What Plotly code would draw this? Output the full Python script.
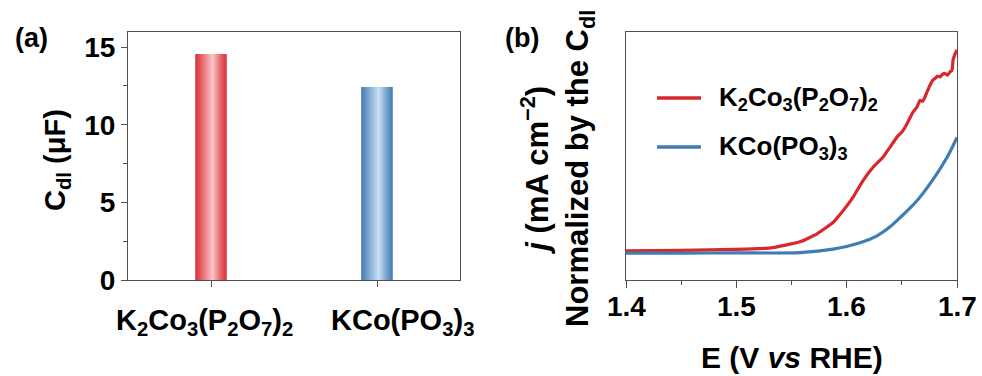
import plotly.graph_objects as go

# ---- Panel (a): double-layer capacitance ----
categories = [
    "K<sub>2</sub>Co<sub>3</sub>(P<sub>2</sub>O<sub>7</sub>)<sub>2</sub>",
    "KCo(PO<sub>3</sub>)<sub>3</sub>",
]
cdl_values = [14.55, 12.43]
cdl_ticks = [0, 5, 10, 15]

# ---- Panel (b): LSV current normalised by Cdl ----
e_red = [1.400, 1.450, 1.500, 1.531, 1.5577, 1.5731, 1.5876, 1.5967, 1.6057,
         1.6148, 1.6239, 1.6329, 1.6393, 1.6456, 1.6505, 1.6547, 1.6601,
         1.6635, 1.6665, 1.669, 1.671, 1.6735, 1.6755, 1.678, 1.680, 1.6825,
         1.6846, 1.687, 1.6891, 1.6915, 1.6937, 1.6955, 1.6964, 1.6978,
         1.6991, 1.700]
j_red = [0.000, 0.005, 0.015, 0.030, 0.090, 0.170, 0.283, 0.400, 0.533,
         0.700, 0.833, 0.933, 1.033, 1.133, 1.190, 1.267, 1.383,
         1.430, 1.500, 1.490, 1.533, 1.600, 1.650, 1.700, 1.717, 1.740,
         1.733, 1.760, 1.767, 1.750, 1.783, 1.800, 1.900, 1.950,
         1.983, 2.000]

e_blue = [1.400, 1.450, 1.500, 1.5577, 1.5876, 1.6121, 1.6275, 1.6393,
          1.6483, 1.6637, 1.6782, 1.6909, 1.700]
j_blue = [-0.023, -0.022, -0.020, -0.017, 0.017, 0.080, 0.150, 0.240,
          0.330, 0.500, 0.710, 0.930, 1.130]

e_ticks = [1.4, 1.5, 1.6, 1.7]
e_tick_labels = ["1.4", "1.5", "1.6", "1.7"]

RED = "#d9272e"
BLUE = "#3f7db3"
bar_scales = [
    [[0, "#d8323a"], [0.18, "#e65c63"], [0.55, "#fbc6c9"], [0.85, "#e4545b"], [1, "#d8323a"]],
    [[0, "#4377b0"], [0.18, "#6d9dcb"], [0.55, "#c9e0f3"], [0.85, "#6898c6"], [1, "#4377b0"]],
]
BAR_WIDTH = 0.19

FONT = "Liberation Sans, Arial, sans-serif"
W, H = 982, 376


def px(xp, yp):
    """Paper coordinates from pixel position in the figure."""
    return xp / W, 1 - yp / H


fig = go.Figure()

# Cylinder-like bars: filled rectangles with a horizontal colour gradient
for i, (val, cs) in enumerate(zip(cdl_values, bar_scales)):
    x0, x1 = i - BAR_WIDTH / 2, i + BAR_WIDTH / 2
    fig.add_trace(go.Scatter(
        x=[x0, x1, x1, x0, x0], y=[0, 0, val, val, 0],
        mode="lines", fill="toself", line=dict(width=0),
        fillgradient=dict(type="horizontal", colorscale=cs),
        showlegend=False, xaxis="x", yaxis="y",
        hovertemplate="%{y}<extra></extra>",
    ))

fig.add_trace(go.Scatter(
    x=e_red, y=j_red, mode="lines", name=categories[0],
    line=dict(color=RED, width=3.2, shape="spline", smoothing=0.4),
    xaxis="x2", yaxis="y2", showlegend=False,
))
fig.add_trace(go.Scatter(
    x=e_blue, y=j_blue, mode="lines", name=categories[1],
    line=dict(color=BLUE, width=3.2, shape="spline", smoothing=0.8),
    xaxis="x2", yaxis="y2", showlegend=False,
))

tick_font = dict(family=FONT, size=28, color="black", weight="bold")
cat_font = dict(family=FONT, size=29, color="black", weight="bold")
frame = dict(showline=True, mirror=True, linecolor="#505050", linewidth=1,
             showgrid=False, zeroline=False, automargin=False)

fig.update_layout(
    width=W, height=H,
    margin=dict(l=0, r=0, t=0, b=0, autoexpand=False),
    paper_bgcolor="white", plot_bgcolor="white",
    font=dict(family=FONT, color="black"),
    xaxis=dict(domain=[128 / W, 460 / W], range=[-0.5, 1.5],
               tickvals=[0, 1], showticklabels=False, ticks="outside",
               ticklen=6, tickcolor="#505050", **frame),
    yaxis=dict(domain=[96 / H, 344 / H], range=[0, 15.97],
               tickvals=cdl_ticks, ticks="outside", ticklen=6,
               tickcolor="#505050", tickfont=tick_font,
               minor=dict(tickvals=[2.5, 7.5, 12.5], ticks="outside",
                          ticklen=4, tickcolor="#505050"),
               anchor="x", **frame),
    xaxis2=dict(domain=[626 / W, 957 / W], range=[1.4, 1.7],
                tickvals=e_ticks, showticklabels=False,
                ticks="outside", ticklen=7, tickcolor="#505050",
                minor=dict(tickvals=[1.45, 1.55, 1.65], ticks="outside",
                           ticklen=4, tickcolor="#505050"),
                anchor="y2", **frame),
    yaxis2=dict(domain=[96 / H, 344 / H], range=[-0.29, 2.18],
                showticklabels=False, ticks="", anchor="x2", **frame),
    showlegend=False,
)

label_font = dict(family=FONT, size=27, color="black", weight="bold")
title_font = dict(family=FONT, size=29, color="black", weight="bold")
legend_font = dict(family=FONT, size=26, color="black", weight="bold")


def note(text, xp, yp, font, **kw):
    x, y = px(xp, yp)
    fig.add_annotation(text=text, x=x, y=y, xref="paper", yref="paper",
                       showarrow=False, font=font, **kw)


# Category names under the bars, placed on the category positions
for i, (name, shift) in enumerate(zip(categories, [-7, 25])):
    fig.add_annotation(text=name, x=i, xref="x", y=1 - 322 / H, yref="paper",
                       xshift=shift, showarrow=False, font=cat_font,
                       xanchor="center", yanchor="middle")

# Potential tick labels for panel (b)
for val, lab in zip(e_ticks, e_tick_labels):
    fig.add_annotation(text=lab, x=val, xref="x2", y=1 - 306 / H, yref="paper",
                       showarrow=False, font=tick_font,
                       xanchor="center", yanchor="middle")

note("(a)", 32, 38, label_font, xanchor="center", yanchor="middle")
note("(b)", 522, 38, label_font, xanchor="center", yanchor="middle")
note("C<sub>dl</sub> (μF)", 57, 160, title_font, textangle=-90,
     xanchor="center", yanchor="middle")
note("<i>j</i> (mA cm<sup>−2</sup>)<br>Normalized by the C<sub>dl</sub>", 557, 169,
     dict(family=FONT, size=31, color="black", weight="bold"), textangle=-90,
     xanchor="center", yanchor="middle", align="center")
note("E (V <i>vs</i> RHE)", 792, 357,
     dict(family=FONT, size=30, color="black", weight="bold"),
     xanchor="center", yanchor="middle")

# Legend for panel (b): coloured sample lines with labels
for name, color, yp in [(categories[0], RED, 98), (categories[1], BLUE, 147)]:
    x0, y0 = px(657, yp)
    x1, _ = px(701, yp)
    fig.add_shape(type="line", xref="paper", yref="paper", x0=x0, x1=x1,
                  y0=y0, y1=y0, line=dict(color=color, width=3.5))
    note(name, 717, yp, legend_font, xanchor="left", yanchor="middle")

fig.write_html("out.html")
